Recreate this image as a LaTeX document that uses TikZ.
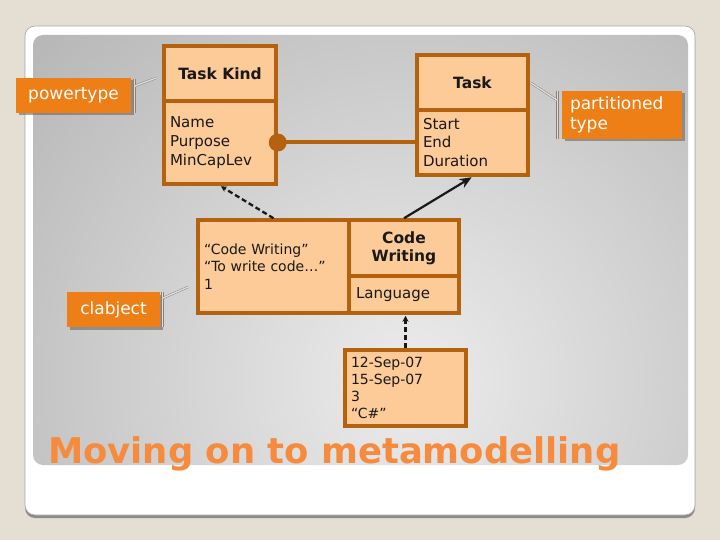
\documentclass[tikz,border=0pt]{standalone}
\usepackage{fontspec}
\setmainfont{DejaVu Sans}
\usetikzlibrary{arrows.meta,shadows}
\definecolor{pagebg}{HTML}{E4DED3}
\definecolor{boxfill}{HTML}{FCCB98}
\definecolor{boxline}{HTML}{B4620F}
\definecolor{tagfill}{HTML}{EE7F16}
\definecolor{titlecol}{HTML}{F68B3E}
\definecolor{callcol}{HTML}{8C7E70}
\definecolor{panelin}{HTML}{ECECEC}
\definecolor{panelout}{HTML}{9A9A9A}
\tikzset{
  umlbox/.style={draw=boxline, fill=boxfill, line width=3.5pt, rectangle, inner sep=0pt, text=black!90},
  headbox/.style={umlbox, font=\bfseries\fontsize{15.5}{18}\selectfont, align=center},
  attrbox/.style={umlbox, font=\fontsize{15}{18.8}\selectfont, align=left, inner xsep=6pt},
  valbox/.style={umlbox, font=\fontsize{14}{17.2}\selectfont, align=left, inner xsep=6pt},
  tagbox/.style={fill=tagfill, text=white, font=\fontsize{17}{20}\selectfont, inner sep=0pt,
                 drop shadow={shadow xshift=2.5pt, shadow yshift=-2.5pt, fill=black!60, opacity=0.6}},
  callout/.style={draw=callcol, line width=0.45pt, double=white!75!gray, double distance=1.3pt},
  instof/.style={draw=black!90, line width=2.3pt, dash pattern=on 5pt off 3pt, -{Stealth[length=6pt,width=6pt]}},
  specarrow/.style={draw=black!90, line width=2.2pt, -{Stealth[length=12pt,width=10pt]}},
  assoc/.style={draw=boxline, line width=4pt}
}
\begin{document}
\begin{tikzpicture}[x=1pt,y=-1pt]
\useasboundingbox (0,0) rectangle (720,540);
\fill[pagebg] (0,0) rectangle (720,540);
% slide panel
\fill[black!45, rounded corners=10pt] (25,29) rectangle (695,518);
\filldraw[fill=white, draw=black!35, line width=0.6pt, rounded corners=10pt] (25,26) rectangle (695,515);
\begin{scope}
  \clip[rounded corners=10pt] (33,35) rectangle (688,465);
  \shade[inner color=panelin, outer color=panelout] (410,380) circle[radius=780pt];
\end{scope}

% Task Kind
\node[headbox, minimum width=112pt, minimum height=55pt] (tkhead) at (220,73.5) {Task Kind};
\node[attrbox, text width=100pt, minimum height=83pt] (tkbody) at (220,142.5) {Name\\Purpose\\MinCapLev};
% Task
\node[headbox, minimum width=111pt, minimum height=55pt] (taskhead) at (472.5,82.5) {Task};
\node[attrbox, text width=99pt, minimum height=65pt] (taskbody) at (472.5,142.5) {Start\\End\\Duration};
% association
\draw[assoc] (tkbody.east) -- (taskbody.west);
\fill[boxline] (tkbody.east) circle[radius=9pt];

% Code Writing clabject
\node[valbox, text width=139pt, minimum height=93pt] (cwleft) at (273.5,266.5) {“Code Writing”\\“To write code…”\\1};
\node[headbox, minimum width=110pt, minimum height=56pt] (cwhead) at (404,248) {Code\\Writing};
\node[attrbox, inner xsep=7pt, text width=96pt, minimum height=37pt] (cwbody) at (404,294.5) {Language};
% instance
\node[valbox, text width=109pt, minimum height=76pt] (inst) at (405.5,388) {12-Sep-07\\15-Sep-07\\3\\“C\#”};

% connectors
\draw[instof, shorten >=1pt] (cwleft.north) -- (tkbody.south);
\draw[specarrow, shorten >=1pt] (cwhead.north) -- (taskbody.south);
\draw[instof, shorten >=1pt] (inst.north) -- (inst.north |- cwbody.south);

% tags
\node[tagbox, minimum width=115pt, minimum height=35pt] (pt) at (73.5,95.5) {powertype};
\node[tagbox, inner xsep=8pt, text width=104pt, minimum height=48pt, align=left, font=\fontsize{17}{20.5}\selectfont] (parttype) at (622,115) {partitioned\\type};
\node[tagbox, minimum width=93pt, minimum height=35pt] (clab) at (113.5,309.5) {clabject};

% callouts
\coordinate (ptBarTop) at (134.5,79);
\coordinate (ptBarBot) at (134.5,113);
\coordinate (ptJoin) at (135,86);
\coordinate (ptTip) at (156,78);
\draw[callout] (ptBarTop) -- (ptBarBot);
\draw[callout] (ptJoin) -- (ptTip);

\coordinate (ptyBarTop) at (557.5,91);
\coordinate (ptyBarBot) at (557.5,139);
\coordinate (ptyJoin) at (557,100);
\coordinate (ptyTip) at (531,83);
\draw[callout] (ptyBarTop) -- (ptyBarBot);
\draw[callout] (ptyJoin) -- (ptyTip);

\coordinate (clBarTop) at (162.5,292);
\coordinate (clBarBot) at (162.5,327);
\coordinate (clJoin) at (163,298);
\coordinate (clTip) at (188,287);
\draw[callout] (clBarTop) -- (clBarBot);
\draw[callout] (clJoin) -- (clTip);

% title
\node[anchor=base west, inner sep=0pt, text=titlecol, font=\bfseries\fontsize{35.4}{40}\selectfont] (title) at (48,463) {Moving on to metamodelling};
\end{tikzpicture}
\end{document}
